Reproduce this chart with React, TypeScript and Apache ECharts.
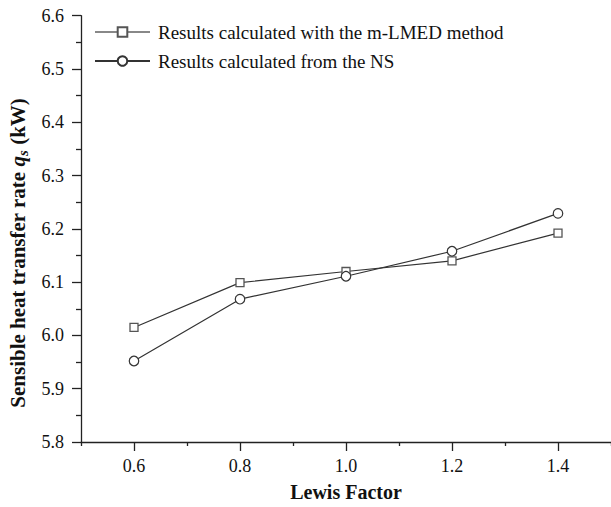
import React, { useEffect, useRef } from "react";
import * as echarts from "echarts";

const lewisFactor = [0.6, 0.8, 1.0, 1.2, 1.4];
const mlmedValues = [6.015, 6.099, 6.12, 6.14, 6.192];
const nsValues = [5.952, 6.068, 6.111, 6.158, 6.229];
const xMajorTicks = [0.6, 0.8, 1.0, 1.2, 1.4];
const xMinorTicks = [0.5, 0.7, 0.9, 1.1, 1.3, 1.5];
const seriesNames = [
  "Results calculated with the m-LMED method",
  "Results calculated from the NS",
];

const FONT = "'Liberation Serif', 'Times New Roman', serif";

export default function App() {
  const ref = useRef<HTMLDivElement>(null);
  useEffect(() => {
    if (!ref.current) return;
    const chart = echarts.init(ref.current, undefined, { renderer: "svg" });
    const axisColor = "#222";
    chart.setOption({
      animation: false,
      backgroundColor: "#fff",
      textStyle: { fontFamily: FONT },
      grid: { left: 81, right: 0, top: 15.7, bottom: 63.7, containLabel: false },
      graphic: [
        {
          type: "text",
          x: 18,
          y: 253,
          rotation: Math.PI / 2,
          style: {
            text: "{b|Sensible heat transfer rate }{i|q}{sub|s}{b| (kW)}",
            align: "center",
            verticalAlign: "middle",
            fill: "#111",
            rich: {
              b: { fontFamily: FONT, fontSize: 21, fontWeight: "bold", fill: "#111" },
              i: { fontFamily: FONT, fontSize: 21, fontWeight: "bold", fontStyle: "italic", fill: "#111" },
              sub: { fontFamily: FONT, fontSize: 15, fontWeight: "bold", fontStyle: "italic", fill: "#111", padding: [9, 0, 0, 0] },
            },
          },
        },
      ],
      legend: {
        orient: "vertical",
        left: 89,
        top: 17.5,
        itemWidth: 55,
        itemHeight: 12,
        itemGap: 10,
        textStyle: { fontFamily: FONT, fontSize: 19, color: "#111", lineHeight: 19, padding: [0, 0, 0, 3] },
        data: [
          { name: seriesNames[0], lineStyle: { color: "#888" } },
          { name: seriesNames[1] },
        ],
      },
      xAxis: [
        {
          type: "value",
          min: 0.5,
          max: 1.5,
          position: "bottom",
          axisLine: { show: true, onZero: false, lineStyle: { color: axisColor, width: 1.3 } },
          axisTick: { show: true, length: 9, customValues: xMajorTicks, lineStyle: { color: axisColor, width: 1.3 } },
          axisLabel: {
            customValues: xMajorTicks,
            formatter: (v: number) => v.toFixed(1),
            fontFamily: FONT,
            fontSize: 18,
            color: "#111",
            margin: 15,
          },
          splitLine: { show: false },
          name: "Lewis Factor",
          nameLocation: "middle",
          nameGap: 40,
          nameTextStyle: { fontFamily: FONT, fontSize: 20, fontWeight: "bold", color: "#111" },
        },
        {
          type: "value",
          min: 0.5,
          max: 1.5,
          position: "bottom",
          axisLine: { show: false, onZero: false },
          axisTick: { show: true, length: 4, customValues: xMinorTicks, lineStyle: { color: axisColor, width: 1.3 } },
          axisLabel: { show: false },
          splitLine: { show: false },
        },
      ],
      yAxis: {
        type: "value",
        min: 5.8,
        max: 6.6,
        interval: 0.1,
        axisLine: { show: true, onZero: false, lineStyle: { color: axisColor, width: 1.3 } },
        axisTick: { show: true, length: 9, lineStyle: { color: axisColor, width: 1.3 } },
        minorTick: { show: true, splitNumber: 2, length: 5, lineStyle: { color: axisColor, width: 1.3 } },
        axisLabel: {
          formatter: (v: number) => v.toFixed(1),
          fontFamily: FONT,
          fontSize: 18,
          color: "#111",
          margin: 17,
        },
        splitLine: { show: false },
      },
      series: [
        {
          name: seriesNames[0],
          type: "line",
          xAxisIndex: 0,
          data: lewisFactor.map((x, i) => [x, mlmedValues[i]]),
          symbol: "rect",
          symbolSize: 8,
          lineStyle: { color: "#333", width: 1.2 },
          itemStyle: { color: "#fff", borderColor: "#555", borderWidth: 1.3 },
        },
        {
          name: seriesNames[1],
          type: "line",
          xAxisIndex: 0,
          data: lewisFactor.map((x, i) => [x, nsValues[i]]),
          symbol: "circle",
          symbolSize: 9.5,
          lineStyle: { color: "#333", width: 1.2 },
          itemStyle: { color: "#fff", borderColor: "#333", borderWidth: 1.2 },
        },
      ],
    });
    return () => chart.dispose();
  }, []);
  return <div ref={ref} style={{ width: 611, height: 507, position: "absolute", left: 0, top: 0 }} />;
}
